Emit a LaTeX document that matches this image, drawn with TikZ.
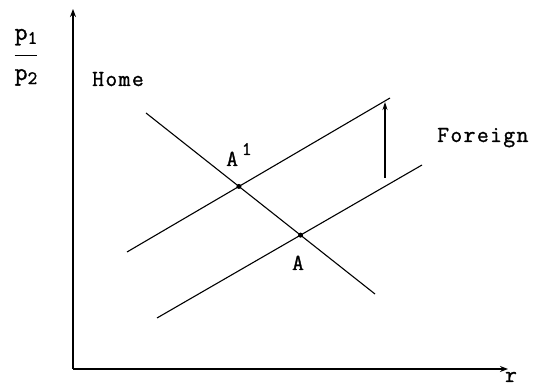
\documentclass[tikz,border=0pt]{standalone}
\usepackage{fontspec}
\usetikzlibrary{arrows.meta,positioning}
\newfontfamily\typew{Latin Modern Mono}[LetterSpace=6,FakeBold=1.2]
\newcommand{\idx}[2]{\raisebox{#1}{\fontsize{19}{22}\selectfont#2}}

\begin{document}
\begin{tikzpicture}[x=1pt,y=1pt,
  lab/.style={font=\fontsize{23}{27}\selectfont\typew,inner sep=1pt},
  axis/.style={line width=1.4pt,-{Stealth[length=8pt,width=6pt]}},
  sched/.style={line width=1.1pt},
  eqpt/.style={circle,fill,inner sep=0pt,minimum size=5pt}]
\useasboundingbox (0,0) rectangle (533,388);
% axes
\coordinate (O) at (73,19);
\coordinate (ytop) at (73,379);
\coordinate (xend) at (508,19);
\draw[axis] (O) -- (ytop);
\draw[axis] (O) -- (xend);
\node[lab,anchor=base] (r) at (511,6) {r};
\node[lab,font=\fontsize{25}{29}\selectfont\typew] (ratio) at (26,335) {\renewcommand{\arraystretch}{1.2}%
  \begin{tabular}{@{}c@{}}p\idx{-4pt}{1}\\[5pt]\hline p\idx{-4pt}{2}\end{tabular}};
% home and foreign schedules
\coordinate (h1) at (146,275);
\coordinate (h2) at (375,94);
\coordinate (f1) at (127,136);
\coordinate (f2) at (390,290);
\coordinate (g1) at (157,70);
\coordinate (g2) at (422,223);
\draw[sched] (h1) -- (h2);
\draw[sched] (f1) -- (f2);
\draw[sched] (g1) -- (g2);
\node[eqpt] (A1) at (intersection of h1--h2 and f1--f2) {};
\node[eqpt] (A) at (intersection of h1--h2 and g1--g2) {};
\node[lab,anchor=base west] (A1lab) at (225,222) {A\,\idx{11pt}{1}};
\node[lab,anchor=base] (Alab) at (298,118) {A};
\node[lab,anchor=base west] (home) at (91,302) {Home};
\node[lab,anchor=base west] (foreign) at (436,246) {Foreign};
% shift of the foreign schedule
\coordinate (s0) at (385,210);
\coordinate (s1) at (385,286);
\draw[line width=1.1pt,-{Stealth[length=8pt,width=5pt]}] (s0) -- (s1);
\end{tikzpicture}
\end{document}
